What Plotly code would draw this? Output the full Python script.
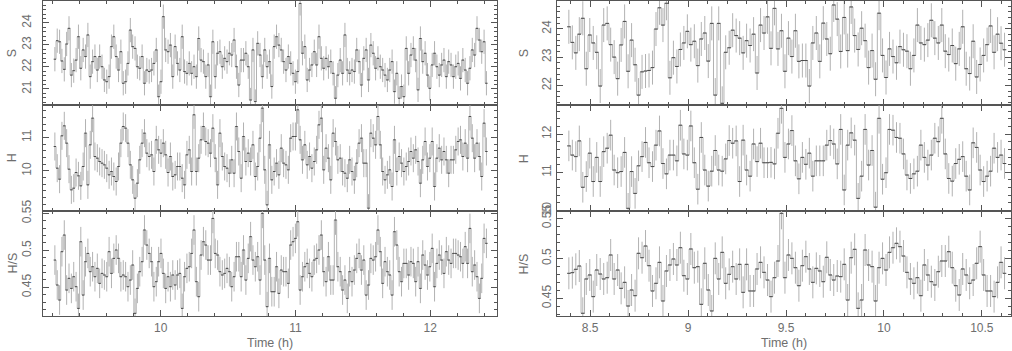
import numpy as np
import plotly.graph_objects as go
from plotly.subplots import make_subplots

# binned light curves, time in hours
T0_LEFT = 9.215
DT_LEFT = 0.0175
T0_RIGHT = 8.391
DT_RIGHT = 0.0178

s_left = [
    22.35, 23.19, 23.14, 22.27, 21.89, 23.04, 23.75, 21.63, 21.83, 22.31,
    23.37, 21.94, 22.77, 22.47, 23.45, 21.56, 22.24, 22.47, 21.86, 22.47,
    22.01, 21.41, 21.33, 21.56, 22.92, 23.37, 22.47, 21.86, 22.69, 21.26,
    21.33, 22.16, 23.67, 22.92, 22.84, 22.01, 21.94, 22.47, 21.26, 21.86,
    21.79, 21.86, 22.16, 22.77, 20.65, 21.33, 24.28, 22.77, 22.69, 22.99,
    21.56, 22.92, 22.16, 21.86, 23.37, 21.79, 21.71, 22.16, 21.71, 22.01,
    21.56, 23.29, 22.31, 22.24, 21.56, 22.09, 20.65, 23.14, 21.56, 22.62,
    22.69, 22.01, 22.39, 22.24, 22.62, 22.54, 23.22, 22.01, 21.18, 22.31,
    22.31, 22.62, 22.01, 20.50, 22.77, 20.43, 23.07,
    22.54, 21.56, 22.77, 22.01, 22.24, 21.11, 22.92, 23.37, 22.99, 22.77,
    22.24, 21.86, 22.47, 22.16, 21.71, 21.33, 21.79, 24.88, 22.62, 22.92,
    21.41, 21.86, 22.09, 22.69, 22.09, 23.37, 22.39, 21.94, 22.39, 22.01,
    22.24, 21.71, 20.58, 21.63, 22.31, 21.71, 23.45, 21.86, 21.71, 21.86,
    21.79, 22.77, 22.24, 21.18, 22.39, 22.77, 21.41, 22.99, 22.62, 21.94,
    22.39, 22.01, 21.86, 21.63, 21.41, 21.86, 22.24, 20.88, 21.71, 20.58,
    21.11, 20.65, 22.84, 21.71, 22.54, 22.84, 22.31, 20.96, 23.29, 22.24,
    22.62, 21.63, 21.03, 22.09, 22.62, 22.01, 21.63, 22.09, 22.31, 21.56,
    22.24, 22.09, 21.56, 22.01, 22.16, 21.48, 22.31, 21.86, 21.26, 21.94,
    22.77, 22.54, 23.75, 23.22, 22.69, 23.14, 21.26,
]

h_left = [
    10.73, 10.08, 9.75, 11.05, 11.35, 10.83, 10.05, 9.43, 9.48, 9.95,
    9.85, 9.55, 10.13, 11.13, 9.58, 10.78, 11.58, 10.43, 10.38, 10.28,
    10.23, 10.18, 10.08, 9.88, 9.98, 9.83, 9.68, 10.13, 10.83, 11.33,
    11.28, 10.83, 10.18, 9.73, 9.18, 9.63, 10.33, 10.83, 11.13, 10.53,
    10.43, 10.48, 9.98, 10.93, 10.63, 10.53, 10.83, 10.48, 9.95, 10.43,
    9.83, 9.88, 10.13, 10.13, 9.78, 9.58, 10.48, 10.63, 9.98, 11.68,
    9.98, 10.38, 10.93, 11.33, 10.88, 10.83, 10.53, 11.28, 10.38, 9.58,
    11.13, 10.43, 10.13, 10.08, 9.93, 10.33, 9.93, 11.33, 10.58, 9.78,
    11.03, 10.28, 10.53, 10.28, 10.78,
    9.83, 10.13, 10.98, 11.88, 10.03, 8.98, 10.78, 9.73, 9.98, 10.23,
    9.88, 10.68, 10.23, 10.18, 10.03, 10.98, 11.03, 11.03, 11.83, 10.93,
    10.33, 10.78, 10.18, 10.43, 10.08, 10.28, 10.63, 11.38, 11.58, 10.03,
    10.68, 10.38, 9.73, 11.13, 10.88, 10.33, 10.38, 9.98, 9.93, 9.78,
    10.33, 9.98, 9.73, 10.23, 10.83, 10.98, 10.23, 10.23, 8.88, 11.13,
    10.98, 10.78, 11.63, 10.78, 9.98, 9.73, 9.88, 10.03, 9.53, 10.93,
    9.98, 10.43, 10.23, 9.98, 10.13, 10.28, 10.58, 10.38, 10.63, 10.28,
    9.63, 10.33, 10.88, 10.13, 10.38, 10.88, 9.53, 10.38, 10.68, 10.33,
    10.58, 10.33, 9.93, 10.33, 10.33, 10.63, 10.88, 10.93, 10.43, 10.83,
    10.38, 11.63, 10.98, 10.38, 10.83, 10.43, 9.83, 11.43, 10.58,
]

hs_left = [
    0.4869, 0.4532, 0.4329, 0.4982, 0.5207, 0.4464, 0.4622, 0.4486, 0.4644, 0.4509,
    0.4216, 0.5117, 0.4396, 0.4847, 0.4959, 0.4712, 0.4779, 0.4644, 0.4757, 0.4554,
    0.4689, 0.4667, 0.4644, 0.4982, 0.4689, 0.4892, 0.5005, 0.4892, 0.4644, 0.4667,
    0.4644, 0.4509, 0.4599, 0.4802, 0.4149, 0.4486, 0.4712, 0.4847, 0.5275, 0.5072,
    0.4959, 0.4847, 0.4509, 0.4577, 0.4847, 0.4959, 0.4689, 0.4486, 0.4644, 0.4509,
    0.4667, 0.4532, 0.4667, 0.4689, 0.4216, 0.4644, 0.4757, 0.4779, 0.4959, 0.5275,
    0.4577, 0.4374, 0.4937, 0.5117, 0.5072, 0.4869, 0.4869, 0.5432, 0.4959, 0.4937,
    0.4712, 0.4667, 0.4689, 0.4757, 0.4712, 0.4509, 0.4644, 0.4914, 0.4914, 0.4644,
    0.5005, 0.4599, 0.4892, 0.5185, 0.4869,
    0.4779, 0.4914, 0.4599, 0.5500, 0.4869, 0.4239, 0.4892, 0.4441, 0.4441, 0.4779,
    0.4419, 0.4734, 0.4712, 0.4712, 0.4554, 0.5072, 0.5117, 0.5162, 0.5387, 0.4464,
    0.4644, 0.4779, 0.4824, 0.4689, 0.4644, 0.4869, 0.4892, 0.5005, 0.5207, 0.4712,
    0.4577, 0.4914, 0.4599, 0.4599, 0.5410, 0.4779, 0.4712, 0.4464, 0.4599, 0.4351,
    0.4712, 0.4577, 0.4734, 0.4892, 0.4959, 0.4734, 0.4869, 0.4396, 0.4532, 0.4892,
    0.4869, 0.4914, 0.5275, 0.4982, 0.4554, 0.4847, 0.4712, 0.4667, 0.4396, 0.5252,
    0.5072, 0.4712, 0.4577, 0.4824, 0.4824, 0.4667, 0.4847, 0.4824, 0.4577, 0.4847,
    0.4486, 0.4937, 0.4802, 0.4667, 0.4779, 0.5027, 0.4509, 0.4824, 0.4937, 0.4869,
    0.4689, 0.4982, 0.4869, 0.4824, 0.4959, 0.4959, 0.4937, 0.4914, 0.4824, 0.5050,
    0.4824, 0.5297, 0.4712, 0.4802, 0.4644, 0.4351, 0.4622, 0.5162, 0.5095,
]

s_right = [
    24.07, 23.52, 23.15, 23.81, 24.37, 22.59, 23.78, 23.50, 23.17, 21.98,
    24.13, 24.19, 23.44, 23.00, 22.24, 23.43, 24.26, 22.50, 23.60, 22.73,
    21.66, 22.48, 22.51, 22.53, 22.63, 23.99, 24.74, 24.13, 24.90, 22.27,
    22.98, 22.67, 23.27, 23.50, 23.91, 23.44, 23.56, 22.70, 23.64, 23.85,
    22.86, 24.19, 21.66, 24.19, 21.37, 23.17, 23.33, 23.95, 23.76, 23.67,
    23.15, 23.58, 23.41, 23.81, 22.44, 24.13, 23.85, 24.42, 23.31,
    24.72, 23.29, 23.93, 22.50, 23.67, 23.02, 23.93, 22.85, 22.88, 22.88,
    21.98, 23.50, 23.85, 22.85, 24.20, 23.64, 23.12, 24.84, 24.34, 23.20,
    24.40, 23.23, 24.77, 23.76, 23.27, 24.02, 23.58, 22.63, 23.23, 22.22,
    24.55, 23.06, 22.28, 23.29, 23.02, 22.80, 23.37, 23.26, 23.21, 22.59,
    23.06, 24.13, 23.50, 23.44, 23.60, 24.30, 23.67, 23.50, 24.13, 23.21,
    23.09, 23.41, 22.77, 23.29, 24.07, 22.59, 22.42, 23.56, 22.30, 22.74,
    23.06, 23.44, 24.10, 23.17, 23.81, 23.49, 23.26,
]

h_right = [
    11.69, 11.45, 11.41, 11.82, 10.61, 10.89, 11.50, 10.76, 11.39, 10.76,
    11.54, 11.63, 11.97, 11.06, 10.99, 11.02, 11.52, 10.06, 11.02, 10.45,
    11.17, 11.41, 11.78, 11.25, 11.15, 11.71, 12.08, 11.23, 10.96, 11.45,
    11.45, 11.30, 12.23, 11.48, 11.45, 12.21, 11.25, 10.56, 11.91, 11.06,
    10.64, 11.03, 11.57, 11.06, 11.03, 11.35, 11.83, 11.76, 11.82, 10.76,
    11.84, 11.06, 10.90, 11.74, 11.28, 11.76, 11.25, 11.25,
    11.26, 11.22, 12.02, 12.67, 11.39, 11.74, 12.09, 11.30, 10.83, 11.39,
    11.21, 11.50, 10.90, 11.30, 11.30, 11.30, 11.71, 11.83, 11.74, 11.22,
    12.12, 10.54, 11.71, 12.03, 11.84, 10.32, 10.90, 12.12, 11.19, 11.57,
    10.09, 12.41, 10.82, 10.99, 12.12, 12.10, 11.91, 11.89, 11.48, 10.93,
    10.84, 10.96, 11.03, 11.71, 11.39, 11.19, 11.45, 11.89, 11.80, 12.41,
    11.48, 10.84, 10.77, 11.23, 11.34, 11.41, 10.90, 10.54, 11.77, 11.65,
    11.06, 10.76, 10.90, 11.03, 11.63, 11.39, 11.45, 11.23,
]

hs_right = [
    0.4813, 0.4821, 0.4863, 0.4904, 0.4313, 0.4742, 0.4792, 0.4521, 0.4854, 0.4804,
    0.4742, 0.4758, 0.5042, 0.4742, 0.4854, 0.4625, 0.4700, 0.4404, 0.4604, 0.4533,
    0.5063, 0.5008, 0.5154, 0.4908, 0.4592, 0.4688, 0.4950, 0.4467, 0.4842, 0.4917,
    0.4992, 0.4917, 0.5133, 0.4783, 0.4742, 0.5117, 0.4883, 0.4896, 0.4425, 0.4938,
    0.4604, 0.4342, 0.5000, 0.4742, 0.5075, 0.4688, 0.4800, 0.4896, 0.4742, 0.4925,
    0.4575, 0.4925, 0.4592, 0.4592, 0.4867, 0.4950, 0.4825, 0.4729,
    0.4521, 0.4758, 0.4967, 0.5563, 0.4758, 0.5042, 0.5000, 0.4883, 0.4658, 0.4908,
    0.5021, 0.4867, 0.4700, 0.4875, 0.4842, 0.4708, 0.5013, 0.4792, 0.4729, 0.4779,
    0.4771, 0.4925, 0.4479, 0.5008, 0.5113, 0.4375, 0.4479, 0.5104, 0.4917, 0.4896,
    0.4467, 0.4883, 0.5000, 0.4854, 0.5075, 0.5133, 0.5188, 0.5146, 0.5029, 0.4825,
    0.4742, 0.4688, 0.4758, 0.4533, 0.4917, 0.4792, 0.4708, 0.4667, 0.4833, 0.4967,
    0.4967, 0.5083, 0.4883, 0.4658, 0.4542, 0.4867, 0.4792, 0.4688, 0.4729, 0.4938,
    0.5146, 0.4792, 0.4592, 0.4592, 0.4521, 0.4700, 0.4950, 0.4813,
]

# typical 1-sigma errors per panel
err_s_left, err_h_left, err_hs_left = 0.55, 0.42, 0.02
err_s_right, err_h_right, err_hs_right = 0.6, 0.4, 0.02

t_left = T0_LEFT + DT_LEFT * np.arange(len(s_left))
t_right = T0_RIGHT + DT_RIGHT * np.arange(len(s_right))

AX = '#555555'
LIGHT = '#b2b2b2'
DARK = '#4a4a4a'
FONT = dict(family='Liberation Sans, DejaVu Sans, sans-serif', size=12, color='#6e6e6e')
TFONT = dict(family='Liberation Sans, DejaVu Sans, sans-serif', size=12.5, color='#6e6e6e')

fig = make_subplots(rows=3, cols=2)


def add_curve(t, y, err, half, row, col):
    fig.add_trace(go.Scatter(x=t, y=y, mode='lines', line=dict(color=LIGHT, width=1, shape='hvh'),
                             hoverinfo='skip'), row=row, col=col)
    fig.add_trace(go.Scatter(x=t, y=y, mode='markers', marker=dict(size=1, color=DARK, opacity=0),
                             error_y=dict(type='constant', value=err, color=LIGHT, thickness=1, width=0),
                             error_x=dict(type='constant', value=half, color=DARK, thickness=1, width=0)),
                  row=row, col=col)


add_curve(t_left, s_left, err_s_left, DT_LEFT / 2, 1, 1)
add_curve(t_left, h_left, err_h_left, DT_LEFT / 2, 2, 1)
add_curve(t_left, hs_left, err_hs_left, DT_LEFT / 2, 3, 1)
add_curve(t_right, s_right, err_s_right, DT_RIGHT / 2, 1, 2)
add_curve(t_right, h_right, err_h_right, DT_RIGHT / 2, 2, 2)
add_curve(t_right, hs_right, err_hs_right, DT_RIGHT / 2, 3, 2)

base = dict(showline=True, linecolor=AX, linewidth=1, mirror='ticks', ticks='inside',
            ticklen=6, tickcolor=AX, tickwidth=1, showgrid=False, zeroline=False,
            tickfont=FONT, automargin=False)

left_dom = [0, 0.4693]
right_dom = [0.5313, 1.0]
rows_dom = {1: [0.6689, 1.0], 2: [0.3333, 0.6689], 3: [0.0, 0.3333]}

xl = dict(range=[9.127, 12.498], dtick=1, tick0=0,
          minor=dict(ticks='inside', ticklen=3, dtick=0.2, tick0=0, tickcolor=AX))
xr = dict(range=[8.332, 10.649], dtick=0.5, tick0=0,
          minor=dict(ticks='inside', ticklen=3, dtick=0.1, tick0=0, tickcolor=AX))

ycfg = {
    (1, 1): dict(range=[20.26, 24.99], dtick=1, minor=0.2, title='S', vals=[21, 22, 23, 24]),
    (2, 1): dict(range=[8.795, 11.966], dtick=1, minor=0.2, title='H', vals=[10, 11]),
    (3, 1): dict(range=[0.4113, 0.5532], dtick=0.05, minor=0.01, title='H/S', vals=[0.45, 0.5, 0.55]),
    (1, 2): dict(range=[21.30, 24.98], dtick=1, minor=0.2, title='S', vals=[22, 23, 24]),
    (2, 2): dict(range=[9.99, 12.75], dtick=1, minor=0.2, title='H', vals=[10, 11, 12]),
    (3, 2): dict(range=[0.4279, 0.5592], dtick=0.05, minor=0.01, title='H/S', vals=[0.45, 0.5, 0.55]),
}

for row in (1, 2, 3):
    for col in (1, 2):
        n = (row - 1) * 2 + col
        xs = 'xaxis' if n == 1 else 'xaxis%d' % n
        ys = 'yaxis' if n == 1 else 'yaxis%d' % n
        xa = dict(base, **(xl if col == 1 else xr))
        xa['domain'] = left_dom if col == 1 else right_dom
        xa['showticklabels'] = row == 3
        xa['ticklabelstandoff'] = 1
        c = ycfg[(row, col)]
        ya = dict(base, range=c['range'], tickmode='array', tickvals=c['vals'],
                  ticktext=['%g' % v for v in c['vals']], tickangle=-90,
                  minor=dict(ticks='inside', ticklen=3, dtick=c['minor'], tick0=0, tickcolor=AX),
                  domain=rows_dom[row], ticklabelstandoff=6 if col == 1 else 1)
        fig.update_layout({xs: xa, ys: ya})
        # axis titles placed as annotations
        yd = rows_dom[row]
        fig.add_annotation(text=c['title'], xref='paper', yref='paper',
                           x=-0.032 if col == 1 else 0.4969, y=(yd[0] + yd[1]) / 2,
                           textangle=-90, showarrow=False, font=TFONT,
                           xanchor='center', yanchor='middle')

for col in (1, 2):
    dom = left_dom if col == 1 else right_dom
    fig.add_annotation(text='Time (h)', xref='paper', yref='paper',
                       x=(dom[0] + dom[1]) / 2, y=-0.0857, showarrow=False, font=TFONT,
                       xanchor='center', yanchor='middle', borderpad=0)

fig.update_layout(width=1012, height=351, margin=dict(l=43, r=1, t=1, b=35),
                  paper_bgcolor='white', plot_bgcolor='white', showlegend=False,
                  font=FONT)

# remove the default page margin so the figure sits at the window's corner
fig.write_html("out.html", config={'displayModeBar': False},
               post_script="document.body.style.margin='0px';")
